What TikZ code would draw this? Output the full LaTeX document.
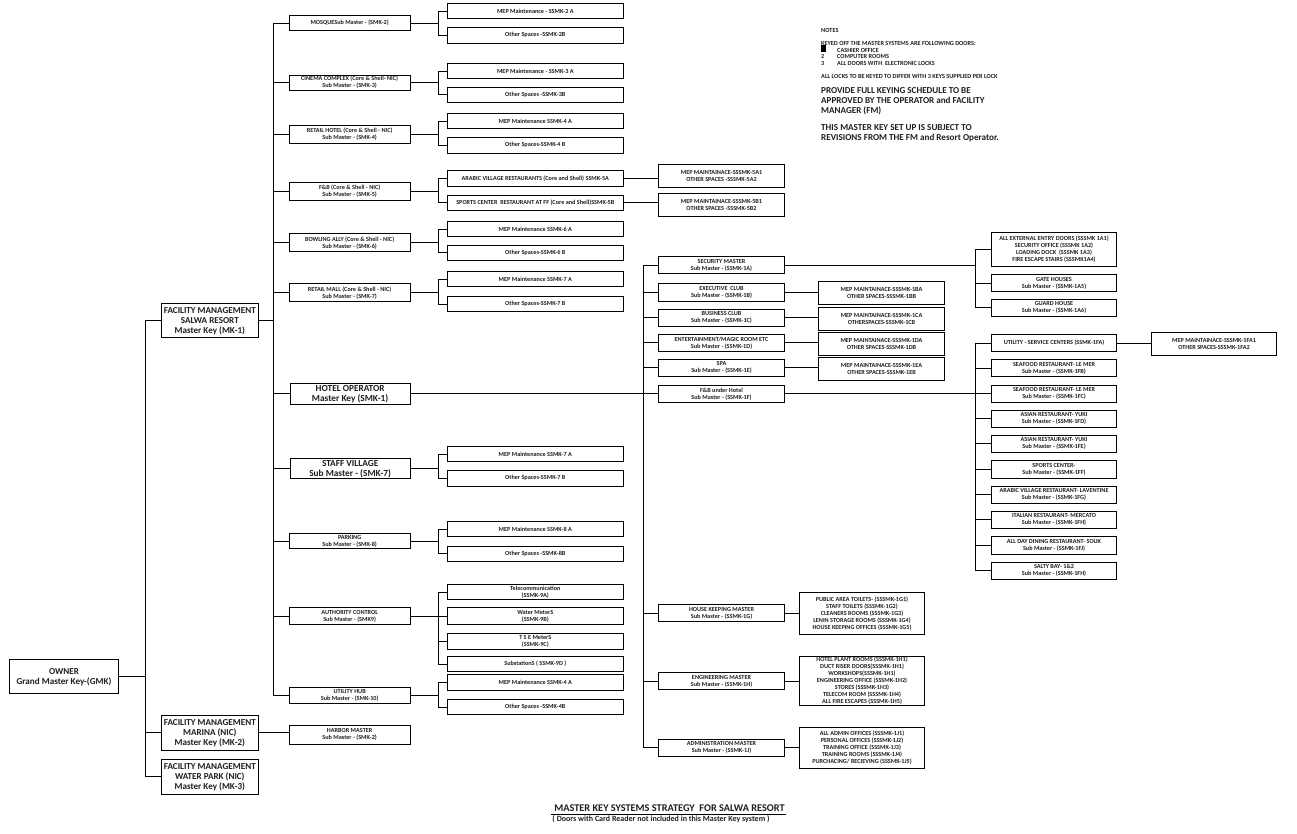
\documentclass[tikz,border=0pt]{standalone}
\usepackage{fontspec}
\setmainfont{Carlito}
\newcommand{\fsS}{\fontsize{6.2}{7}\selectfont\bfseries}
\newcommand{\fsM}{\fontsize{9.1}{10}\selectfont\bfseries}
\newcommand{\fsL}{\fontsize{9.3}{10.5}\selectfont\bfseries}
\newcommand{\bx}[7][kfont]{%
 \node[kbox,#1,minimum width={(#5-#3)*1pt},minimum height={(#6-#4)*1pt}] (#2) at ({(#3+#5)/2},{(#4+#6)/2}) {#7};}
\newcommand{\nt}[4]{\node[notetext,font=#1] (#2) at (821,#3) {#4};}
% parent, bus, children
\newcommand{\fork}[4]{%
 \draw[conn] (#1.east) -- (#2 |- #1.east);
 \draw[conn] (#2 |- #3.west) -- (#2 |- #4.west);
 \foreach \cc in {#3,#4} \draw[conn] (#2 |- \cc.west) -- (\cc.west);}
\newcommand{\lnk}[2]{\draw[conn] (#1.east) -- (#1.east -| #2.west);}
\tikzset{
 kbox/.style={draw=black,line width=0.9pt,fill=white,inner sep=0pt,align=center,text=black!88},
 kfont/.style={font=\fsS},
 kmid/.style={font=\fsM,text depth=0pt},
 kbig/.style={font=\fsL,text depth=0pt},
 kown/.style={font=\fontsize{9.1}{10}\selectfont\bfseries,text depth=0pt},
 conn/.style={draw=black,line width=0.9pt},
 notetext/.style={anchor=west,inner sep=0pt,align=left,text=black!88}
}
\begin{document}
\begin{tikzpicture}[x=1pt,y=-1pt]
\useasboundingbox (0,0) rectangle (1297,833);
% named bus positions
\coordinate (bA) at (145.3,0);
\coordinate (bB) at (273.3,0);
\coordinate (bC) at (438.3,0);
\coordinate (bD) at (643.3,0);
\coordinate (bE) at (975.7,0);
% level 0, 1
\bx[kown]{own}{9.3}{659.3}{118.7}{693.3}{OWNER\\Grand Master Key-(GMK)}
\bx[kmid]{mka}{161.3}{303.3}{258.3}{337.3}{FACILITY MANAGEMENT\\SALWA RESORT\\Master Key (MK-1)}
\bx[kmid]{mkb}{161.3}{715.3}{258.3}{750.3}{FACILITY MANAGEMENT\\MARINA (NIC)\\Master Key (MK-2)}
\bx[kmid]{mkc}{161.3}{759.3}{258.3}{794.3}{FACILITY MANAGEMENT\\WATER PARK (NIC)\\Master Key (MK-3)}
% level 2
\bx{mos}{289.3}{15.3}{410}{30.7}{MOSQUESub Master - (SMK-2)}
\bx{cin}{289.3}{75}{410}{90.3}{CINEMA COMPLEX (Core \& Shell- NIC)\\Sub Master - (SMK-3)}
\bx{ret}{289.3}{125.3}{410}{143.7}{RETAIL HOTEL (Core \& Shell - NIC)\\Sub Master - (SMK-4)}
\bx{fab}{289.3}{182.3}{410}{200.3}{F\&B (Core \& Shell - NIC)\\Sub Master - (SMK-5)}
\bx{bow}{289.3}{233.7}{410}{251.7}{BOWLING ALLY (Core \& Shell - NIC)\\Sub Master - (SMK-6)}
\bx{mal}{289.3}{283.7}{410}{301.7}{RETAIL MALL (Core \& Shell - NIC)\\Sub Master - (SMK-7)}
\bx[kbig]{hot}{290.3}{383}{410}{404}{HOTEL OPERATOR\\Master Key (SMK-1)}
\bx[kbig]{sta}{290.3}{458.3}{410}{478.7}{STAFF VILLAGE\\Sub Master - (SMK-7)}
\bx{par}{289.3}{533.3}{410}{548.7}{PARKING\\Sub Master - (SMK-8)}
\bx{aut}{289.3}{607.3}{410}{624.7}{AUTHORITY CONTROL\\Sub Master - (SMK9)}
\bx{uti}{289.3}{687.3}{410}{703.3}{UTILITY HUB\\Sub Master - (SMK-10)}
\bx{har}{289.3}{725.3}{410}{744}{HARBOR MASTER\\Sub Master - (SMK-2)}
% level 3
\bx{a2}{447.3}{3.3}{623.3}{18.7}{MEP Maintenance - SSMK-2 A}
\bx{b2}{447.3}{27.3}{623.3}{43.3}{Other Spaces -SSMK-2B}
\bx{a3}{447.3}{63.3}{623.3}{78.7}{MEP Maintenance - SSMK-3 A}
\bx{b3}{447.3}{87.3}{623.3}{102.3}{Other Spaces -SSMK-3B}
\bx{a4}{447.3}{113.3}{623.3}{128.7}{MEP Maintenance SSMK-4 A}
\bx{b4}{447.3}{137.3}{623.3}{153.3}{Other Spaces-SSMK-4 B}
\bx{a5}{447.3}{170.7}{623.3}{186}{ARABIC VILLAGE RESTAURANTS (Core and Shell) SSMK-5A}
\bx{b5}{447.3}{195.3}{623.3}{210.3}{SPORTS CENTER\ \ RESTAURANT AT FF (Core and Shell)SSMK-5B}
\bx{a6}{447.3}{221.3}{623.3}{236.7}{MEP Maintenance SSMK-6 A}
\bx{b6}{447.3}{245.3}{623.3}{260.3}{Other Spaces-SSMK-6 B}
\bx{a7}{447.3}{271.3}{623.3}{286.7}{MEP Maintenance SSMK-7 A}
\bx{b7}{447.3}{296.3}{623.3}{311.7}{Other Spaces-SSMK-7 B}
\bx{sa}{447.3}{446.3}{623.3}{461.7}{MEP Maintenance SSMK-7 A}
\bx{sb}{447.3}{470.3}{623.3}{486.3}{Other Spaces-SSMK-7 B}
\bx{pa}{447.3}{521.3}{623.3}{536.7}{MEP Maintenance SSMK-8 A}
\bx{pb}{447.3}{546.3}{623.3}{561.3}{Other Spaces -SSMK-8B}
\bx{tel}{447.3}{584.3}{623.3}{599.7}{Telecommunication\\(SSMK-9A)}
\bx{wat}{447.3}{607.3}{623.3}{624.7}{Water MeterS\\(SSMK-9B)}
\bx{tse}{447.3}{633.3}{623.3}{649.3}{T S E MeterS\\(SSMK-9C)}
\bx{sub}{447.3}{656.3}{623.3}{671.7}{SubstationS ( SSMK-9D )}
\bx{ua}{447.3}{674.3}{623.3}{690.7}{MEP Maintenance SSMK-4 A}
\bx{ub}{447.3}{699.3}{623.3}{714.7}{Other Spaces -SSMK-4B}
% level 4 (F&B)
\bx{ka}{658.3}{164.3}{784.7}{187.3}{MEP MAINTAINACE-SSSMK-5A1\\OTHER SPACES -SSSMK-5A2}
\bx{kb}{658.3}{193.3}{784.7}{216.7}{MEP MAINTAINACE-SSSMK-5B1\\OTHER SPACES -SSSMK-5B2}
% hotel masters
\bx{sec}{658.3}{256.7}{784.7}{273.3}{SECURITY MASTER\\Sub Master - (SSMK-1A)}
\bx{exe}{658.3}{283.7}{784.7}{301.3}{EXECUTIVE\ \ CLUB\\Sub Master - (SSMK-1B)}
\bx{bus}{658.3}{309.3}{784.7}{326.3}{BUSINESS CLUB\\Sub Master - (SSMK-1C)}
\bx{ent}{658.3}{334.3}{784.7}{351.3}{ENTERTAINMENT/MAGIC ROOM ETC\\Sub Master - (SSMK-1D)}
\bx{spa}{658.3}{359.3}{784.7}{376.3}{SPA\\Sub Master - (SSMK-1E)}
\bx{fbh}{658.3}{385.3}{784.7}{402.3}{F\&B under Hotel\\Sub Master - (SSMK-1F)}
\bx{hkm}{658.3}{604.3}{784.7}{621.7}{HOUSE KEEPING MASTER\\Sub Master - (SSMK-1G)}
\bx{eng}{658.3}{672.3}{784.7}{689.7}{ENGINEERING MASTER\\Sub Master - (SSMK-1H)}
\bx{adm}{658.3}{739.3}{784.7}{756.3}{ADMINISTRATION MASTER\\Sub Master - (SSMK-1J)}
% hotel details
\bx{exd}{818.3}{281.3}{944.7}{304.3}{MEP MAINTAINACE-SSSMK-1BA\\OTHER SPACES-SSSMK-1BB}
\bx{bud}{818.3}{307.3}{944.7}{330.3}{MEP MAINTAINACE-SSSMK-1CA\\OTHERSPACES-SSSMK-1CB}
\bx{end}{818.3}{332.3}{944.7}{355.3}{MEP MAINTAINACE-SSSMK-1DA\\OTHER SPACES-SSSMK-1DB}
\bx{spd}{818.3}{357.3}{944.7}{380.3}{MEP MAINTAINACE-SSSMK-1EA\\OTHER SPACES-SSSMK-1EB}
\bx{hkd}{799.3}{592.3}{924.7}{634.3}{PUBLIC AREA TOILETS- (SSSMK-1G1)\\STAFF TOILETS (SSSMK-1G2)\\CLEANERS ROOMS (SSSMK-1G3)\\LENIN STORAGE ROOMS (SSSMK-1G4)\\HOUSE KEEPING OFFICES (SSSMK-1G5)}
\bx{end2}{799.3}{656.3}{924.7}{705.3}{HOTEL PLANT ROOMS (SSSMK-1H1)\\DUCT RISER DOORS(SSSMK-1H1)\\WORKSHOPS(SSSMK-1H1)\\ENGINEERING OFFICE (SSSMK-1H2)\\STORES (SSSMK-1H3)\\TELECOM ROOM (SSSMK-1H4)\\ALL FIRE ESCAPES (SSSMK-1H5)}
\bx{add}{799.3}{727.3}{924.7}{768.7}{ALL ADMIN OFFICES (SSSMK-1J1)\\PERSONAL OFFICES (SSSMK-1J2)\\TRAINING OFFICE (SSSMK-1J3)\\TRAINING ROOMS (SSSMK-1J4)\\PURCHACING/ RECIEVING (SSSMK-1J5)}
% right column
\bx{ext}{991.3}{232.3}{1116.7}{266.3}{ALL EXTERNAL ENTRY DOORS (SSSMK 1A1)\\SECURITY OFFICE (SSSMK 1A2)\\LOADING DOCK\ \ (SSSMK 1A3)\\FIRE ESCAPE STAIRS (SSSMK1A4)}
\bx{gat}{991.3}{274.7}{1116.7}{291.3}{GATE HOUSES\\Sub Master - (SSMK-1A5)}
\bx{gua}{991.3}{299.3}{1116.7}{316.3}{GUARD HOUSE\\Sub Master - (SSMK-1A6)}
\bx{ser}{991.3}{334.7}{1116.7}{351.3}{UTILITY - SERVICE CENTERS (SSMK-1FA)}
\bx{sf1}{991.3}{359.7}{1116.7}{376.3}{SEAFOOD RESTAURANT- LE MER\\Sub Master - (SSMK-1FB)}
\bx{sf2}{991.3}{385.3}{1116.7}{402.3}{SEAFOOD RESTAURANT- LE MER\\Sub Master - (SSMK-1FC)}
\bx{as1}{991.3}{410.3}{1116.7}{427.3}{ASIAN RESTAURANT- YUKI\\Sub Master - (SSMK-1FD)}
\bx{as2}{991.3}{435.3}{1116.7}{452.3}{ASIAN RESTAURANT- YUKI\\Sub Master - (SSMK-1FE)}
\bx{spo}{991.3}{460.3}{1116.7}{478.3}{SPORTS CENTER-\\Sub Master - (SSMK-1FF)}
\bx{ara}{991.3}{486.3}{1116.7}{503.3}{ARABIC VILLAGE RESTAURANT- LAVENTINE\\Sub Master - (SSMK-1FG)}
\bx{ita}{991.3}{511.3}{1116.7}{528.3}{ITALIAN RESTAURANT- MERCATO\\Sub Master - (SSMK-1FH)}
\bx{day}{991.3}{536.3}{1116.7}{554.3}{ALL DAY DINING RESTAURANT- SOUK\\Sub Master - (SSMK-1FJ)}
\bx{sal}{991.3}{562.3}{1116.7}{579.3}{SALTY BAY- 1\&2\\Sub Master - (SSMK-1FH)}
\bx{sed}{1151.3}{332.3}{1276.7}{355.3}{MEP MAINTAINACE-SSSMK-1FA1\\OTHER SPACES-SSSMK-1FA2}
% connectors, trees
\draw[conn] (own.east) -- (bA |- own.east);
\draw[conn] (bA |- mka.west) -- (bA |- mkc.west);
\foreach \c in {mka,mkb,mkc} \draw[conn] (bA |- \c.west) -- (\c.west);
\draw[conn] (mka.east) -- (bB |- mka.east);
\draw[conn] (bB |- mos.west) -- (bB |- uti.west);
\foreach \c in {mos,cin,ret,fab,bow,mal,hot,sta,par,aut,uti} \draw[conn] (bB |- \c.west) -- (\c.west);
\lnk{mkb}{har}
\fork{mos}{bC}{a2}{b2}
\fork{cin}{bC}{a3}{b3}
\fork{ret}{bC}{a4}{b4}
\fork{fab}{bC}{a5}{b5}
\fork{bow}{bC}{a6}{b6}
\fork{mal}{bC}{a7}{b7}
\fork{sta}{bC}{sa}{sb}
\fork{par}{bC}{pa}{pb}
\fork{uti}{bC}{ua}{ub}
\draw[conn] (aut.east) -- (bC |- aut.east);
\draw[conn] (bC |- tel.west) -- (bC |- sub.west);
\foreach \c in {tel,wat,tse,sub} \draw[conn] (bC |- \c.west) -- (\c.west);
\lnk{a5}{ka}
\lnk{b5}{kb}
% hotel
\lnk{hot}{fbh}
\draw[conn] (bD |- sec.west) -- (bD |- adm.west);
\foreach \c in {sec,exe,bus,ent,spa,hkm,eng,adm} \draw[conn] (bD |- \c.west) -- (\c.west);
\lnk{exe}{exd}
\lnk{bus}{bud}
\lnk{ent}{end}
\lnk{spa}{spd}
\lnk{hkm}{hkd}
\lnk{eng}{end2}
\lnk{adm}{add}
\draw[conn] (sec.east) -- (bE |- sec.east);
\draw[conn] (bE |- ext.west) -- (bE |- gua.west);
\foreach \c in {ext,gat,gua} \draw[conn] (bE |- \c.west) -- (\c.west);
\draw[conn] (fbh.east) -- (bE |- fbh.east);
\draw[conn] (bE |- ser.west) -- (bE |- sal.west);
\foreach \c in {ser,sf1,sf2,as1,as2,spo,ara,ita,day,sal} \draw[conn] (bE |- \c.west) -- (\c.west);
\lnk{ser}{sed}
% notes
\newcommand{\fsN}{\fontsize{6.25}{6.5}\selectfont\bfseries}
\newcommand{\fsB}{\fontsize{9.1}{10}\selectfont\bfseries}
\nt{\fsN}{n1}{30}{NOTES}
\nt{\fsN}{n2}{43}{KEYED OFF THE MASTER SYSTEMS ARE FOLLOWING DOORS:}
\fill[black] (821,45) rectangle (826,52);
\node[notetext,font=\fsN] (n3) at (837,50) {CASHIER OFFICE};
\nt{\fsN}{n4}{56}{2}
\node[notetext,font=\fsN] (n5) at (837,56) {COMPUTER ROOMS};
\nt{\fsN}{n6}{63}{3}
\node[notetext,font=\fsN] (n7) at (837,63) {ALL DOORS WITH\ \ ELECTRONIC LOCKS};
\nt{\fsN}{n8}{76}{ALL LOCKS TO BE KEYED TO DIFFER WITH 3 KEYS SUPPLIED PER LOCK}
\node[notetext,font=\fsB,anchor=north west] (n9) at (821,87) {PROVIDE FULL KEYING SCHEDULE TO BE\\APPROVED BY THE OPERATOR and FACILITY\\MANAGER (FM)};
\node[notetext,font=\fsB,anchor=north west] (n10) at (821,124) {THIS MASTER KEY SET UP IS SUBJECT TO\\REVISIONS FROM THE FM and Resort Operator.};
% title
\node[inner sep=0pt,text=black!88,font=\fontsize{10.3}{10}\selectfont\bfseries] (tt) at (669.5,808.5) {MASTER KEY SYSTEMS STRATEGY\ \ FOR SALWA RESORT};
\node[inner sep=0pt,text=black!88,font=\fontsize{8}{8}\selectfont\bfseries] (ts) at (661,819.5) {( Doors with Card Reader not included in this Master Key system )};
\coordinate (ula) at (551,814.3);
\coordinate (ulb) at (786,814.3);
\draw[line width=0.7pt] (ula) -- (ulb);
\end{tikzpicture}
\end{document}
